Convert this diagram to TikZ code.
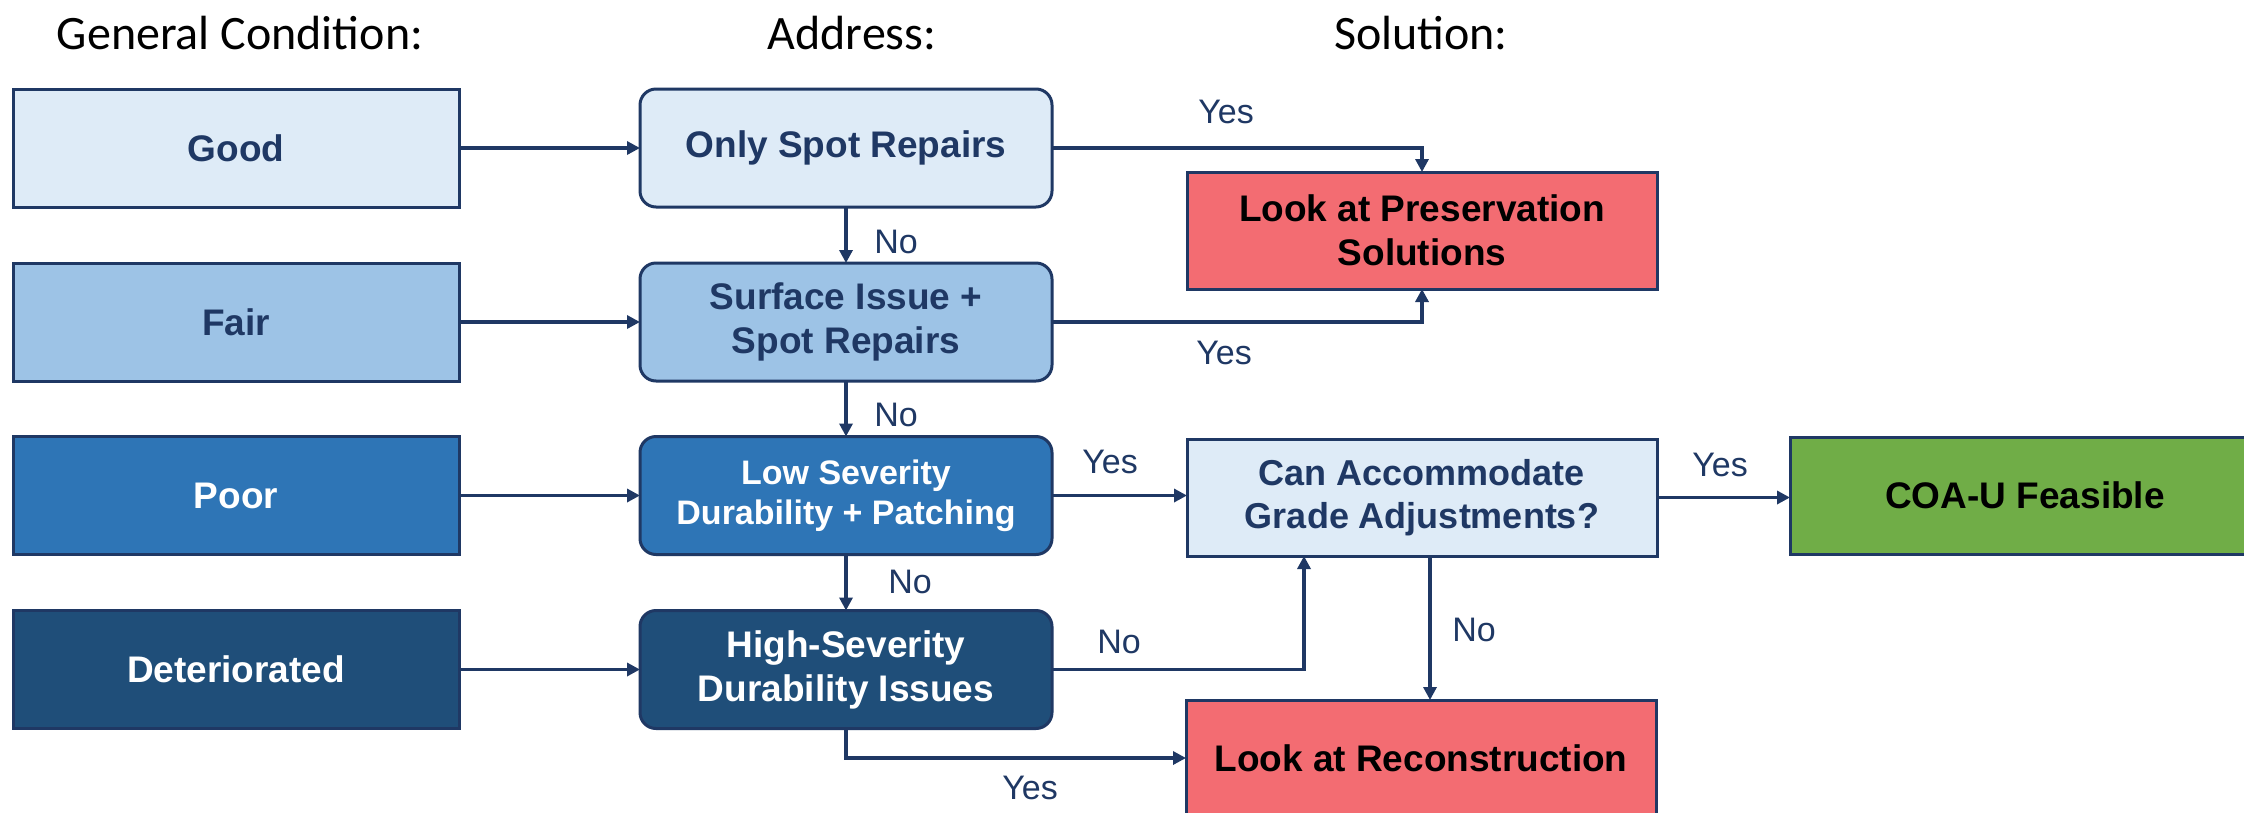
\documentclass[tikz,border=0pt]{standalone}
\usepackage{fontspec}
\setmainfont{Liberation Sans}
\newfontfamily\hdrfont{Carlito}
\usetikzlibrary{arrows.meta}
\definecolor{navy}{HTML}{1F3864}
\definecolor{goodc}{HTML}{DEEBF7}
\definecolor{fairc}{HTML}{9DC3E6}
\definecolor{poorc}{HTML}{2E75B6}
\definecolor{detc}{HTML}{1F4E79}
\definecolor{redc}{HTML}{F36C72}
\definecolor{greenc}{HTML}{70AD47}
\begin{document}
\begin{tikzpicture}[x=1pt,y=-1pt,
  box/.style={draw=navy,line width=3pt,minimum width=446pt,minimum height=118pt,inner sep=0pt,outer sep=0pt,align=center,font=\bfseries\fontsize{37}{44}\selectfont},
  rbox/.style={box,rounded corners=16pt,minimum width=412pt},
  sbox/.style={box,minimum width=470pt,minimum height=117pt},
  conn/.style={draw=navy,line width=3.5pt,-{Triangle[length=13pt,width=13pt]}},
  lbl/.style={text=navy,font=\fontsize{34}{40}\selectfont,inner sep=0pt},
  hdr/.style={font=\hdrfont\fontsize{48}{56}\selectfont,anchor=base,inner sep=0pt}]
\useasboundingbox (0,0) rectangle (2244,812);
\clip (0,0) rectangle (2244,812);
\fill[white] (0,0) rectangle (2244,812);

% headers
\node[hdr] (h1) at (240,49) {General Condition:};
\node[hdr] (h2) at (852,49) {Address:};
\node[hdr] (h3) at (1421,49) {Solution:};

% column 1
\node[box,fill=goodc,text=navy] (good) at (236,148) {Good};
\node[box,fill=fairc,text=navy] (fair) at (236,322) {Fair};
\node[box,fill=poorc,text=white] (poor) at (236,495.5) {Poor};
\node[box,fill=detc,text=white] (det) at (236,669.5) {Deteriorated};

% column 2
\node[rbox,fill=goodc,text=navy] (osr) at (846,148) {Only Spot Repairs};
\node[rbox,fill=fairc,text=navy] (sis) at (846,322) {Surface Issue +\\Spot Repairs};
\node[rbox,fill=poorc,text=white,font=\bfseries\fontsize{34}{40}\selectfont] (lsd) at (846,495.5) {Low Severity\\Durability + Patching};
\node[rbox,fill=detc,text=white] (hsd) at (846,669.5) {High-Severity\\Durability Issues};

% column 3 and 4
\node[sbox,fill=redc,text=black] (pres) at (1422,230.5) {Look at Preservation\\Solutions};
\node[sbox,fill=goodc,text=navy,font=\bfseries\fontsize{36}{43}\selectfont] (can) at (1422,497.5) {Can Accommodate\\Grade Adjustments?};
\node[sbox,fill=redc,text=black,minimum height=116pt] (rec) at (1421,758) {Look at Reconstruction};
\node[sbox,fill=greenc,text=black] (coa) at (2025,495.5) {COA-U Feasible};

% connectors
\draw[conn] (good) -- (osr);
\draw[conn] (fair) -- (sis);
\draw[conn] (poor) -- (lsd);
\draw[conn] (det) -- (hsd);
\draw[conn] (osr) -- (sis);
\draw[conn] (sis) -- (lsd);
\draw[conn] (lsd) -- (hsd);
\draw[conn] (osr.east) -| (pres.north);
\draw[conn] (sis.east) -| (pres.south);
\draw[conn] (lsd.east) -- (lsd.east -| can.west);
\draw[conn] (can.east) -- (can.east -| coa.west);
\draw[conn] (hsd.east) -| ([xshift=-118pt]can.south);
\draw[conn] ([xshift=8pt]can.south) -- ([xshift=8pt]can.south |- rec.north);
\draw[conn] (hsd.south) |- (rec.west);

% labels
\node[lbl] (l1) at (1226,111.5) {Yes};
\node[lbl] (l2) at (1224,352.5) {Yes};
\node[lbl] (l3) at (896,242) {No};
\node[lbl] (l4) at (896,415) {No};
\node[lbl] (l5) at (910,582) {No};
\node[lbl] (l6) at (1110,462) {Yes};
\node[lbl] (l7) at (1720,465) {Yes};
\node[lbl] (l8) at (1119,642) {No};
\node[lbl] (l9) at (1474,630) {No};
\node[lbl] (l10) at (1030,788) {Yes};
\end{tikzpicture}
\end{document}
